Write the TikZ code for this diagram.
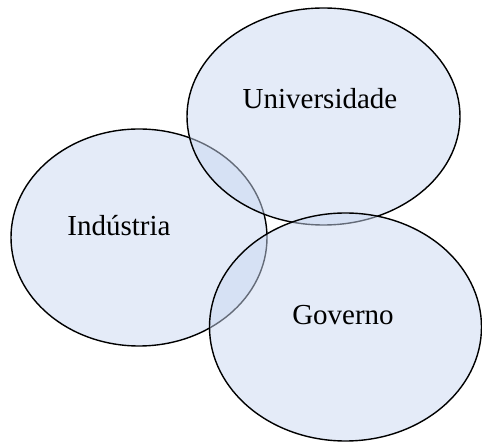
\documentclass[tikz,border=0pt]{standalone}
\usepackage{fontspec}
\setmainfont{Liberation Serif}
\usetikzlibrary{shapes.geometric}
\definecolor{sectorfill}{RGB}{201,215,241}
\tikzset{sector/.style={ellipse,draw=black,line width=1.4pt,fill=sectorfill,fill opacity=0.5,inner sep=0pt},
	sectorname/.style={anchor=base,font=\fontsize{29}{34}\selectfont}}

\begin{document}
\begin{tikzpicture}[x=1pt,y=-1pt]
	\useasboundingbox (0,0) rectangle (482,443);
	\node[sector,minimum width=256pt,minimum height=217pt] (industria) at (139,237.5) {};
	\node[sector,minimum width=273pt,minimum height=217pt] (universidade) at (323.5,116.5) {};
	\node[sector,minimum width=272pt,minimum height=228pt] (governo) at (345.5,327) {};
	\node[sectorname] (lblU) at (320,109) {Universidade};
	\node[sectorname] (lblI) at (119,236) {Indústria};
	\node[sectorname] (lblG) at (343,325) {Governo};
\end{tikzpicture}
\end{document}
